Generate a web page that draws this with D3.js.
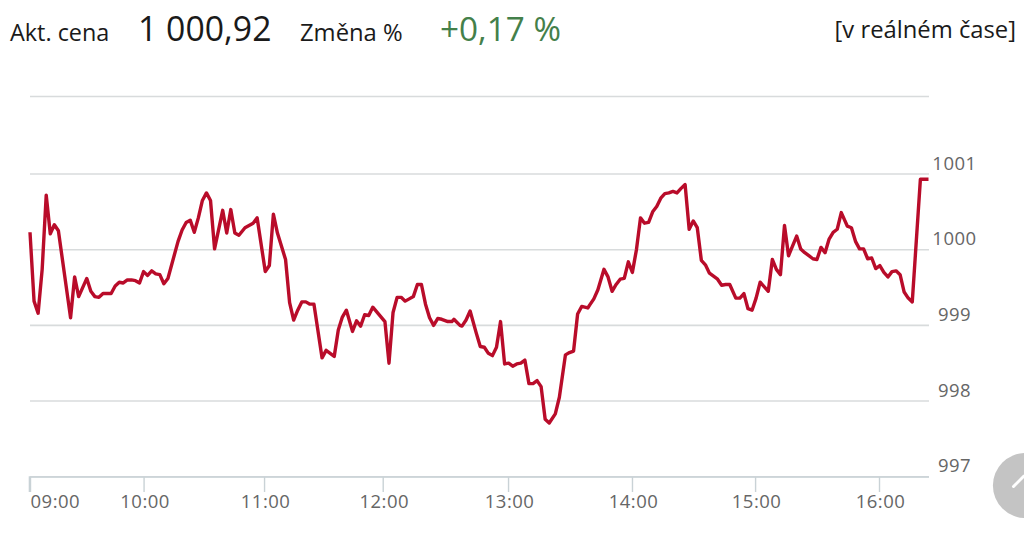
<!DOCTYPE html>
<html><head><meta charset="utf-8">
<script src="https://cdn.jsdelivr.net/npm/d3@7"></script>
<style>html,body{margin:0;padding:0;background:#fff;overflow:hidden}svg{display:block}text{font-family:"Open Sans",sans-serif}</style>
</head><body><svg id="c" width="1024" height="537"></svg>
<script>
const minutes=[544,546,548,550,552,554,556,558,564,566,568,572,574,576,578,580,584,586,588,590,592,594,596,598,600,602,604,606,608,610,612,617,619,621,623,625,627,629,631,633,635,639,641,643,645,647,650,652,654,656,660,662,664,666,670,672,674,676,678,680,682,684,688,690,694,696,698,700,703,705,707,709,711,713,719,721,723,725,727,729,731,733,735,737,739,741,743,745,747,750,752,753,756,757,759,761,764,766,768,770,772,774,776,778,780,782,784,786,788,790,792,794,796,798,800,803,805,808,810,812,814,816,819,820,822,824,827,829,831,833,835,837,839,841,843,845,847,849,851,853,855,857,859,861,863,865,867,869,871,873,875,877,879,881,883,885,887,889,892,894,896,898,900,902,904,908,910,912,914,916,918,922,924,926,928,930,932,934,936,938,940,942,944,947,949,951,953,955,957,959,961,963,965,967,969,971,973,975,977,979,983,987];
const prices=[1000.23,999.32,999.16,999.74,1000.72,1000.21,1000.33,1000.25,999.10,999.64,999.38,999.62,999.45,999.38,999.37,999.42,999.42,999.52,999.57,999.56,999.60,999.60,999.59,999.56,999.71,999.66,999.72,999.68,999.67,999.55,999.62,1000.11,1000.26,1000.36,1000.39,1000.23,1000.42,1000.65,1000.75,1000.65,1000.01,1000.52,1000.22,1000.53,1000.22,1000.19,1000.29,1000.32,1000.35,1000.42,999.71,999.79,1000.47,1000.22,999.87,999.30,999.07,999.20,999.31,999.31,999.28,999.28,998.57,998.67,998.59,998.94,999.11,999.20,998.92,999.06,998.99,999.14,999.13,999.24,999.05,998.50,999.17,999.37,999.37,999.32,999.35,999.38,999.54,999.54,999.28,999.10,999.00,999.09,999.08,999.05,999.05,999.08,999.00,998.99,999.07,999.19,998.90,998.72,998.71,998.63,998.60,998.71,999.05,998.49,998.50,998.46,998.49,998.50,998.54,998.23,998.23,998.27,998.19,997.76,997.71,997.83,998.05,998.61,998.64,998.66,999.15,999.25,999.23,999.27,999.35,999.47,999.74,999.64,999.45,999.54,999.61,999.62,999.84,999.70,1000.00,1000.42,1000.35,1000.36,1000.50,1000.57,1000.68,1000.74,1000.75,1000.77,1000.75,1000.81,1000.86,1000.27,1000.38,1000.29,999.86,999.80,999.69,999.65,999.61,999.53,999.54,999.54,999.36,999.36,999.42,999.22,999.20,999.36,999.57,999.45,999.87,999.74,999.67,1000.32,999.92,1000.18,1000.01,999.96,999.92,999.88,999.87,1000.03,999.96,1000.14,1000.23,1000.27,1000.49,1000.31,1000.29,1000.11,1000.01,1000.01,999.88,999.89,999.75,999.79,999.70,999.64,999.71,999.72,999.67,999.44,999.36,999.31,1000.93,1000.93];
const gridValues=[997,998,999,1000,1001,1002];
const yTickValues=[997,998,999,1000,1001];
const xTickMinutes=[544,600,659.4,717.9,779.7,840.8,901.5,962.6];
const xTickLabels=["09:00","10:00","11:00","12:00","13:00","14:00","15:00","16:00"];

const svg=d3.select("#c");
const x=d3.scaleLinear().domain([544,987]).range([30,928.5]);
const y=d3.scaleLinear().domain([997,1001]).range([476.7,174]);
const n=minutes.length;

svg.append("g").selectAll("line").data(gridValues).join("line")
 .attr("x1",30).attr("x2",929).attr("y1",d=>d===1002?96.5:y(d)).attr("y2",d=>d===1002?96.5:y(d))
 .attr("stroke","#d8dbdc").attr("stroke-width",1.6);

const ax=svg.append("g").attr("transform","translate(0,477)")
 .call(d3.axisBottom(x).tickValues(xTickMinutes).tickSize(15).tickPadding(3).tickFormat((d,i)=>xTickLabels[i]));
ax.select(".domain").attr("stroke","#c9d2d6").attr("stroke-width",1.6).attr("d","M29.5,15V0H929");
ax.selectAll(".tick line").attr("stroke","#c9d2d6").attr("stroke-width",1.4);
ax.selectAll(".tick text").attr("fill","#666").attr("font-size",18.5).attr("font-family",'"Open Sans",sans-serif').attr("text-anchor",(d,i)=>i===0?"start":"middle").attr("dx",(d,i)=>i===0?0:1).attr("letter-spacing",0.5);

const ay=svg.append("g").attr("transform","translate(954.5,0)")
 .call(d3.axisRight(y).tickValues(yTickValues).tickSize(0).tickPadding(0).tickFormat(d3.format("d")));
ay.select(".domain").remove();
ay.selectAll(".tick text").attr("fill","#666").attr("font-size",18.5).attr("font-family",'"Open Sans",sans-serif').attr("text-anchor","middle").attr("dx",0).attr("dy",-5).attr("letter-spacing",0.5);

svg.append("path").datum(d3.range(n))
 .attr("d",d3.line().x(i=>x(minutes[i])).y(i=>y(prices[i])))
 .attr("fill","none").attr("stroke","#b90c2a").attr("stroke-width",3.4).attr("stroke-linejoin","round");

const hdr=[["Akt. cena",10,40.5,23.4,"#1a1a1a"],["1 000,92",138,41,33.8,"#1a1a1a"],["Změna %",300,40.5,23.8,"#1a1a1a"],["+0,17 %",440,41,33.3,"#44804a"]];
svg.append("g").selectAll("text").data(hdr).join("text")
 .attr("x",d=>d[1]).attr("y",d=>d[2]).attr("font-size",d=>d[3]).attr("fill",d=>d[4]).text(d=>d[0]);
svg.append("text").attr("x",1016).attr("y",38).attr("text-anchor","end").attr("font-size",23.8).attr("fill","#1a1a1a").text("[v reálném čase]");

svg.append("circle").attr("cx",1025.5).attr("cy",485.5).attr("r",32.6).attr("fill","#c4c4c4");
svg.append("path").attr("d","M1013.5,486.5L1024,476").attr("fill","none").attr("stroke","#fff").attr("stroke-width",3).attr("stroke-linecap","round");
</script></body></html>
